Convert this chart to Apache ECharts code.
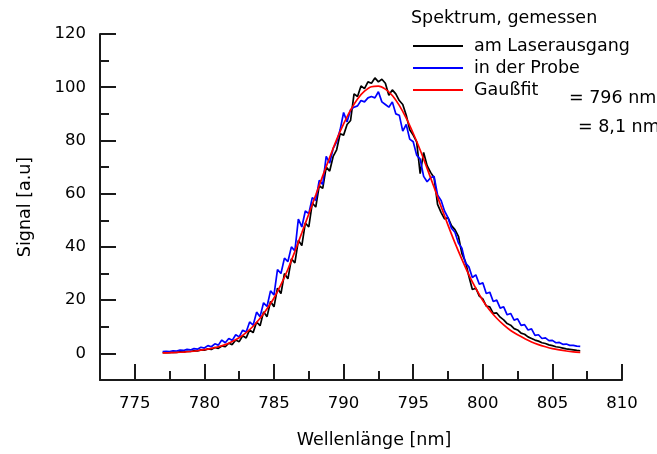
<!DOCTYPE html>
<html><head><meta charset="utf-8">
<script src="https://cdn.jsdelivr.net/npm/echarts@6/dist/echarts.min.js"></script>
<style>html,body{margin:0;padding:0;background:#fff}#c{width:657px;height:454px}</style>
</head><body><div id="c"></div>
<script>
// wavelength grid of the measured spectra [nm]
const wavelength = [
777.00,777.25,777.50,777.75,778.00,778.25,778.50,778.75,779.00,779.25,779.50,779.75,
780.00,780.25,780.50,780.75,781.00,781.25,781.50,781.75,782.00,782.25,782.50,782.75,
783.00,783.25,783.50,783.75,784.00,784.25,784.50,784.75,785.00,785.25,785.50,785.75,
786.00,786.25,786.50,786.75,787.00,787.25,787.50,787.75,788.00,788.25,788.50,788.75,
789.00,789.25,789.50,789.75,790.00,790.25,790.50,790.75,791.00,791.25,791.50,791.75,
792.00,792.25,792.50,792.75,793.00,793.25,793.50,793.75,794.00,794.25,794.50,794.75,
795.00,795.25,795.50,795.75,796.00,796.25,796.50,796.75,797.00,797.25,797.50,797.75,
798.00,798.25,798.50,798.75,799.00,799.25,799.50,799.75,800.00,800.25,800.50,800.75,
801.00,801.25,801.50,801.75,802.00,802.25,802.50,802.75,803.00,803.25,803.50,803.75,
804.00,804.25,804.50,804.75,805.00,805.25,805.50,805.75,806.00,806.25,806.50,806.75,
807.00];
// Spektrum am Laserausgang (black)
const laserOutput = [
0.3,0.4,0.3,0.5,0.4,0.6,0.5,0.8,0.7,1.0,0.9,1.3,
1.2,1.7,1.5,2.2,1.9,2.8,2.5,3.8,3.3,5.0,4.4,6.6,
5.8,8.8,7.8,11.8,10.4,15.6,13.8,19.5,17.5,24.5,22.5,30.0,
28.0,35.5,34.0,42.5,40.5,49.0,47.5,56.5,55.0,63.0,62.0,70.0,
68.5,74.0,76.5,82.5,82.0,86.0,87.5,97.5,96.5,100.5,99.5,102.0,
101.5,103.5,102.0,103.0,101.5,97.0,99.0,97.5,95.0,93.5,89.5,84.0,
82.0,79.5,67.5,75.5,70.5,68.0,66.0,56.0,53.0,50.5,51.0,48.0,
46.5,44.0,37.5,34.5,29.0,24.0,24.5,21.5,20.5,17.8,17.5,15.0,
15.2,13.6,12.6,11.2,10.6,9.3,8.8,7.6,7.2,6.2,5.6,5.0,
4.6,4.0,3.7,3.2,2.9,2.5,2.3,2.0,1.7,1.5,1.3,1.1,
1.0];
// Spektrum in der Probe (blue)
const inSample = [
0.7,0.8,0.7,1.0,0.9,1.2,1.1,1.5,1.3,1.8,1.6,2.3,
2.0,2.9,2.5,3.6,3.1,5.0,4.0,5.6,4.9,7.0,6.2,8.7,
8.0,11.8,10.6,15.5,13.8,19.0,17.6,23.5,22.0,31.5,30.0,35.8,
34.5,40.0,38.5,50.5,47.5,53.5,52.5,58.5,57.5,65.0,63.5,74.0,
71.5,77.0,79.5,84.0,90.5,87.0,91.5,92.5,93.0,95.0,94.5,96.0,
96.5,96.0,98.3,94.5,93.5,92.5,94.5,90.0,89.5,83.5,86.0,80.5,
79.5,74.5,73.0,66.5,64.5,66.0,66.5,59.5,57.5,53.5,51.0,47.0,
45.5,41.5,39.5,34.0,32.5,28.5,29.5,26.0,26.5,22.5,23.0,19.5,
20.0,17.0,17.5,14.5,15.0,12.5,13.0,10.5,10.8,8.8,9.2,6.8,
7.0,5.6,5.8,4.8,4.9,4.0,4.1,3.4,3.5,3.0,3.0,2.7,
2.6];
// Gauss fit (red)
const fitWavelength = [
777.0,777.5,778.0,778.5,779.0,779.5,780.0,780.5,781.0,781.5,782.0,782.5,
783.0,783.5,784.0,784.5,785.0,785.5,786.0,786.5,787.0,787.5,788.0,788.5,
789.0,789.5,790.0,790.5,791.0,791.5,792.0,792.5,793.0,793.5,794.0,794.5,
795.0,795.5,796.0,796.5,797.0,797.5,798.0,798.5,799.0,799.5,800.0,800.5,
801.0,801.5,802.0,802.5,803.0,803.5,804.0,804.5,805.0,805.5,806.0,806.5,
807.0];
const gaussFit = [
0.2,0.25,0.35,0.5,0.7,1.0,1.4,1.9,2.5,3.3,4.5,5.9,
7.8,10.2,13.2,16.8,20.8,25.8,31.6,38.3,45.3,52.4,59.5,66.7,
73.6,80.3,86.2,91.4,95.6,98.5,100.2,100.4,99.3,96.9,93.2,88.4,
82.7,76.4,69.5,62.4,55.2,48.2,41.5,35.3,29.5,24.4,19.9,16.2,
13.2,10.7,8.6,7.0,5.6,4.3,3.3,2.5,1.8,1.3,0.9,0.6,
0.4];
const xMajorTicks = [775,780,785,790,795,800,805,810];
const xMinorTicks = [777.5,782.5,787.5,792.5,797.5,802.5,807.5];
const yMajorTicks = [0,20,40,60,80,100,120];
const yMinorTicks = [10,30,50,70,90,110];
const seriesNames = ['am Laserausgang','in der Probe','Gaußfit'];
const legendTitle = 'Spektrum, gemessen';
const fitNotes = ['= 796 nm;','= 8,1 nm'];

const FONT = 'DejaVu Sans';
const AX = '#1a1a1a';
const chart = echarts.init(document.getElementById('c'), null, {renderer:'canvas'});
const pairs = (xs, ys) => xs.map((x,i)=>[x, ys[i]]);

chart.setOption({
  animation:false,
  backgroundColor:'#fff',
  title:{text:legendTitle,left:406,top:4,textStyle:{fontSize:17.5,fontWeight:'normal',fontFamily:FONT,color:'#000'}},
  legend:{orient:'vertical',left:413,top:35,padding:0,icon:'rect',itemWidth:50,itemHeight:2,itemGap:0,
    textStyle:{fontSize:17.5,lineHeight:12,fontFamily:FONT,color:'#000',padding:[10,0,0,6]},data:seriesNames},
  grid:{left:100,right:35,top:34,bottom:70,containLabel:false},
  xAxis:[
    {type:'value',min:772.5,max:810,position:'bottom',
     axisLine:{show:true,onZero:false,lineStyle:{color:AX,width:2}},
     axisTick:{show:true,inside:true,length:16,customValues:xMajorTicks,lineStyle:{color:AX,width:2}},
     axisLabel:{customValues:xMajorTicks,margin:15,fontSize:16.5,fontFamily:FONT,color:'#000'},
     splitLine:{show:false},
     name:'Wellenlänge [nm]',nameLocation:'middle',nameGap:51,
     nameTextStyle:{fontSize:17.5,fontFamily:FONT,color:'#000',padding:[0,0,0,26]}},
    {type:'value',min:772.5,max:810,position:'bottom',
     axisLine:{show:false,onZero:false},
     axisTick:{show:true,inside:true,length:9,customValues:xMinorTicks,lineStyle:{color:AX,width:2}},
     axisLabel:{show:false},splitLine:{show:false}}
  ],
  yAxis:[
    {type:'value',min:-10,max:120,position:'left',
     axisLine:{show:true,onZero:false,lineStyle:{color:AX,width:2}},
     axisTick:{show:true,inside:true,length:16,customValues:yMajorTicks,lineStyle:{color:AX,width:2}},
     axisLabel:{customValues:yMajorTicks,margin:14,fontSize:16.5,fontFamily:FONT,color:'#000'},
     splitLine:{show:false},
     name:'Signal [a.u]',nameLocation:'middle',nameGap:66,
     nameTextStyle:{fontSize:17.5,fontFamily:FONT,color:'#000'}},
    {type:'value',min:-10,max:120,position:'left',
     axisLine:{show:false,onZero:false},
     axisTick:{show:true,inside:true,length:9,customValues:yMinorTicks,lineStyle:{color:AX,width:2}},
     axisLabel:{show:false},splitLine:{show:false}}
  ],
  graphic:[
    {type:'text',left:569,top:89,style:{text:fitNotes[0],font:'17.5px "DejaVu Sans"',fill:'#000'}},
    {type:'text',left:578,top:118,style:{text:fitNotes[1],font:'17.5px "DejaVu Sans"',fill:'#000'}}
  ],
  series:[
    {name:seriesNames[0],type:'line',data:pairs(wavelength,laserOutput),symbol:'none',showSymbol:false,
     lineStyle:{color:'#000',width:1.7},itemStyle:{color:'#000'},z:2},
    {name:seriesNames[1],type:'line',data:pairs(wavelength,inSample),symbol:'none',showSymbol:false,
     lineStyle:{color:'#0000ff',width:1.7},itemStyle:{color:'#0000ff'},z:3},
    {name:seriesNames[2],type:'line',data:pairs(fitWavelength,gaussFit),symbol:'none',showSymbol:false,smooth:0.3,
     lineStyle:{color:'#ff0000',width:1.7},itemStyle:{color:'#ff0000'},z:4}
  ]
});
</script></body></html>
